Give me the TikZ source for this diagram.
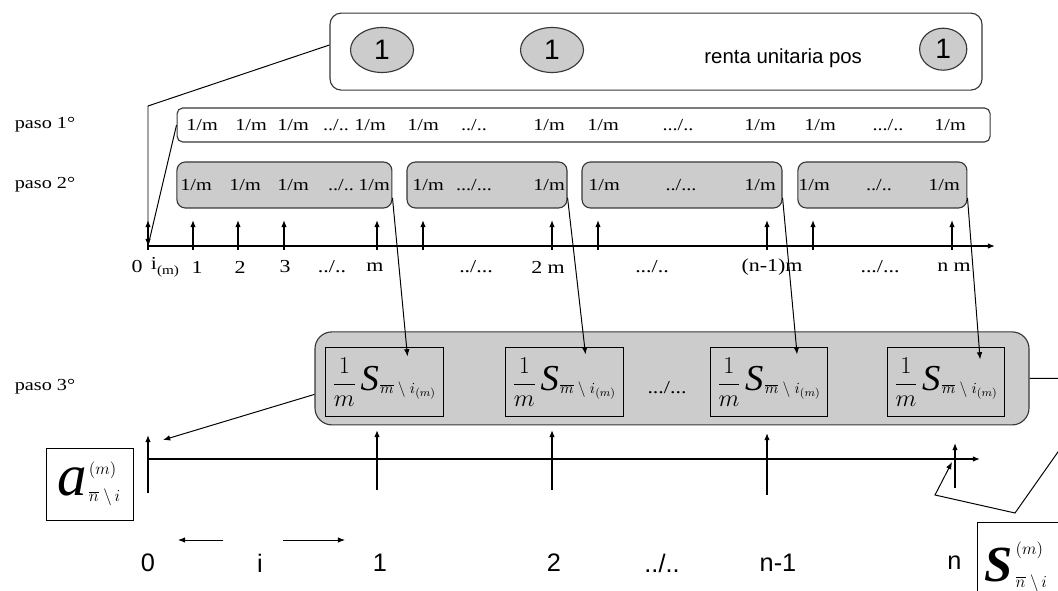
\documentclass[tikz,border=0pt]{standalone}
\usepackage{amsmath}
\usepackage{fontspec}
\setmainfont{Liberation Serif}
\newfontfamily\arialfont{Liberation Sans}
\newfontfamily\timesfont[FakeStretch=1.2]{Liberation Serif}
\definecolor{boxgray}{RGB}{204,204,204}
\definecolor{edgegray}{RGB}{55,55,55}
\usetikzlibrary{arrows.meta,positioning,shapes.geometric,calc}

% one m-th of the accumulated value of a period
\newcommand{\partsum}{$\displaystyle\frac{1}{m}\,\mbox{\fontsize{26}{26}\selectfont\itshape S\kern1pt}_{\overline{m}\;\backslash\; i_{(m)}}$}

\begin{document}
\begin{tikzpicture}[
  >={Latex[length=1.8mm,width=1.4mm]},
  frame/.style={draw=edgegray, line width=0.8pt, inner sep=0pt},
  onebox/.style={frame, fill=boxgray, ellipse, font=\arialfont\fontsize{20}{22}\selectfont},
  slice/.style={frame, fill=boxgray, rounded corners=6pt, minimum height=1.15cm},
  quota/.style={font=\timesfont\fontsize{12}{14}\selectfont, inner sep=1pt},
  axlabel/.style={font=\timesfont\fontsize{13}{15}\selectfont, inner sep=1pt},
  yearlabel/.style={font=\arialfont\fontsize{18}{20}\selectfont, inner sep=1pt},
  sumbox/.style={draw=black, fill=boxgray, line width=0.7pt, minimum width=2.93cm, minimum height=1.725cm, inner sep=0pt, font=\fontsize{16}{18}\selectfont},
  link/.style={line width=0.7pt},
  uparrow/.style={->, line width=0.9pt}
]
  \useasboundingbox (0,0) rectangle (26.45,14.75);

  % Unit annuity
  \node[frame, fill=white, rounded corners=8pt, minimum width=16.3cm, minimum height=1.925cm] (top) at (16.4,13.46) {};
  \node[onebox, minimum width=1.575cm, minimum height=1.125cm] (e1) at (9.55,13.5) {1};
  \node[onebox, minimum width=1.575cm, minimum height=1.125cm] (e2) at (13.8,13.5) {1};
  \node[onebox, minimum width=1.18cm, minimum height=1.05cm] (e3) at (23.58,13.52) {1};
  \node[font=\arialfont\fontsize{14.5}{16}\selectfont] (renta) at (19.58,13.3) {renta unitaria pos};

  % Step labels
  \node[quota] (paso1) at (1.125,11.625) {paso 1°};
  \node[quota] (paso2) at (1.125,10.125) {paso 2°};
  \node[quota] (paso3) at (1.125,5.075) {paso 3°};

  % Step 1: every fraction of the year
  \node[frame, fill=white, rounded corners=4pt, minimum width=20.325cm, minimum height=0.85cm] (row1) at (14.59,11.625) {};
  \foreach \x/\t [count=\k] in {5.05/{1/m}, 6.275/{1/m}, 7.325/{1/m}, 8.4/{../..}, 9.25/{1/m}, 10.575/{1/m}, 11.85/{../..},
      13.725/{1/m}, 15.075/{1/m}, 16.95/{.../..}, 19.0/{1/m}, 20.5/{1/m}, 22.2/{.../..}, 23.75/{1/m}}
    \node[quota] (q1-\k) at (\x,11.625) {\t};

  % Step 2: grouped by year
  \node[slice, minimum width=5.375cm] (b1) at (7.11,10.125) {};
  \node[slice, minimum width=4.0cm] (b2) at (12.175,10.125) {};
  \node[slice, minimum width=5.0cm] (b3) at (17.05,10.125) {};
  \node[slice, minimum width=4.225cm] (b4) at (22.06,10.125) {};
  \foreach \x/\t [count=\k] in {4.9/{1/m}, 6.125/{1/m}, 7.325/{1/m}, 8.525/{../..}, 9.35/{1/m}, 10.7/{1/m}, 11.85/{.../...},
      13.725/{1/m}, 15.1/{1/m}, 17.025/{../...}, 19.0/{1/m}, 20.35/{1/m}, 21.975/{../..}, 23.6/{1/m}}
    \node[quota] (q2-\k) at (\x,10.125) {\t};

  % Axis in periods of 1/m
  \coordinate (o1) at (3.7,8.6);
  \coordinate (end1) at (24.875,8.6);
  \coordinate (bend) at (3.7,12.1);
  \draw[->, line width=0.9pt] (o1) -- (end1);
  \foreach \x in {3.7,4.825,5.95,7.1,9.425,10.575,13.8,14.95,19.175,20.325,23.8}
    \draw[uparrow] (\x,8.5) -- (\x,9.25);
  \foreach \x/\t [count=\k] in {3.425/0, 4.125/{i\raisebox{-0.6ex}{\fontsize{9}{9}\selectfont(m)}}, 4.925/1, 6.0/2, 7.125/3,
      8.3/{../..}, 9.375/m, 11.9/{../...}, 13.7/{2 m}, 16.3/{.../..}, 19.3/{(n-1)m}, 22.0/{.../...}, 23.85/{n m}}
    \node[axlabel] (t1-\k) at (\x,8.075) {\t};

  \draw[->, link] ([yshift=0.165cm]top.west) -- (bend) -- (o1);
  \draw[link] (row1.west) -- (o1);

  % Step 3: value of each year at its end
  \node[frame, fill=boxgray, rounded corners=12pt, minimum width=17.85cm, minimum height=2.325cm] (p3box) at (16.8,5.29) {};
  \foreach \x [count=\k] in {9.61,14.11,19.225,23.65}
    \node[sumbox] (s\k) at (\x,5.19) {\partsum};
  \node[font=\timesfont\fontsize{13}{15}\selectfont] (dots3) at (16.675,5.05) {.../...};

  \foreach \k/\dx/\dy in {1/-0.9/-0.225, 2/-0.95/-0.175, 3/-0.775/-0.175, 4/-0.625/-0.3}
    \draw[->, link] ([yshift=-0.32cm]b\k.east) -- ([shift={(\dx,\dy)}]s\k.north east);

  % Axis in years
  \coordinate (o2) at (3.7,3.275);
  \coordinate (end2) at (24.5,3.275);
  \draw[->, line width=0.9pt] (o2) -- (end2);
  \draw[uparrow] (3.7,2.425) -- (3.7,3.875);
  \draw[uparrow] (9.425,2.5) -- (9.425,4.0);
  \draw[uparrow] (13.8,2.5) -- (13.8,4.0);
  \draw[uparrow] (19.175,2.375) -- (19.175,3.925);
  \draw[uparrow] (23.875,2.55) -- (23.875,3.675);

  \foreach \x/\t [count=\k] in {3.7/0, 6.5/i, 9.5/1, 13.85/2, 16.55/{../..}, 19.45/{n-1}, 23.86/n}
    \node[yearlabel] (y\k) at (\x,0.675) {\t};
  \draw[->, link] ($(y2)+(-0.925,0.575)$) -- ++(-1.125,0);
  \draw[->, link] ($(y2)+(0.575,0.575)$) -- ++(1.55,0);

  % Present and final values
  \node[draw, line width=0.7pt, minimum width=2.175cm, minimum height=1.8cm, inner sep=0pt, font=\fontsize{18}{20}\selectfont] (abox) at (2.2375,2.65)
    {$\mbox{\fontsize{42}{42}\selectfont\itshape a\kern1pt}^{(m)}_{\overline{n}\;\backslash\, i}$};
  \node[draw, line width=0.7pt, anchor=north west, text width=2.3cm, align=left, inner xsep=0.18cm, minimum height=2.2cm, font=\fontsize{18}{20}\selectfont] (sbox) at (24.425,1.7)
    {$\mbox{\fontsize{36}{36}\selectfont\bfseries\itshape S\kern2pt}^{(m)}_{\overline{n}\;\backslash\, i}$};

  \coordinate (a0) at (4.075,3.75);
  \draw[->, link] ([yshift=-0.4cm]p3box.west) -- (a0);
  \coordinate (far) at (27.75,5.3);
  \coordinate (low) at (25.375,1.925);
  \coordinate (back) at (23.375,2.375);
  \coordinate (sn) at (23.8,3.2);
  \draw[->, link] (p3box.east) -- (far) -- (low) -- (back) -- (sn);
\end{tikzpicture}
\end{document}
